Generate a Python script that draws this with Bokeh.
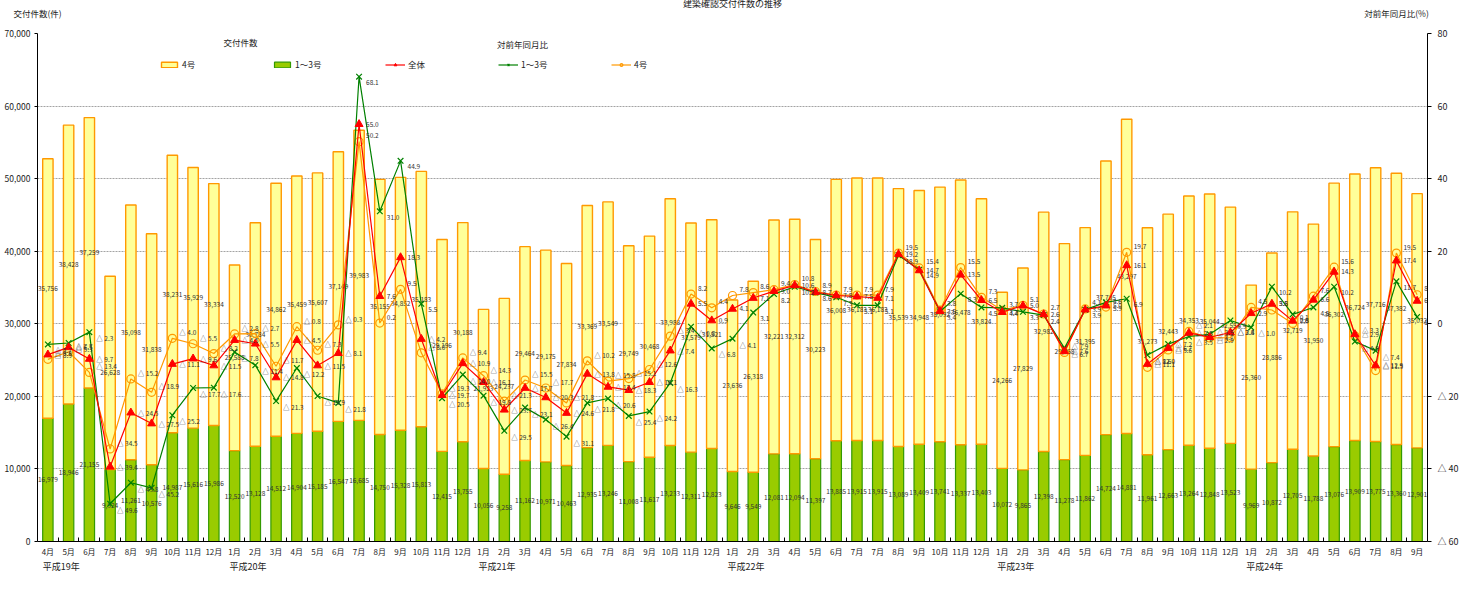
from bokeh.plotting import figure
from bokeh.models import (ColumnDataSource, Range1d, LinearAxis, FixedTicker, Legend,
                          LegendItem, Label, NumeralTickFormatter)
from bokeh.embed import file_html
from bokeh.resources import INLINE
from bokeh.core.properties import value

FONT = "Noto Sans CJK JP"

months = ["4月", "5月", "6月", "7月", "8月", "9月", "10月", "11月", "12月",
          "1月", "2月", "3月", "4月", "5月", "6月", "7月", "8月", "9月", "10月", "11月", "12月",
          "1月", "2月", "3月", "4月", "5月", "6月", "7月", "8月", "9月", "10月", "11月", "12月",
          "1月", "2月", "3月", "4月", "5月", "6月", "7月", "7月", "8月", "9月", "10月", "11月", "12月",
          "1月", "2月", "3月", "4月", "5月", "6月", "7月", "8月", "9月", "10月", "11月", "12月",
          "1月", "2月", "3月", "4月", "5月", "6月", "7月", "8月", "9月"]

year_labels = ["平成19年", "平成20年", "平成21年", "平成22年", "平成23年", "平成24年"]
year_start = [0, 9, 21, 33, 46, 58]

# 交付件数
cnt_13 = [16979, 18946, 21155, 9924, 11261, 10576, 14987, 15616, 15986,
          12520, 13128, 14512, 14904, 15185, 16547, 16685, 14750, 15328, 15813, 12415, 13755,
          10056, 9258, 11162, 10971, 10463, 12935, 13246, 11008, 11617, 13233, 12311, 12823,
          9646, 9549, 12081, 12094, 11397, 13885, 13915, 13915, 13089, 13409, 13741, 13337, 13403,
          10072, 9865, 12398, 11278, 11862, 14724, 14881, 11961, 12663, 13264, 12848, 13523,
          9969, 10872, 12705, 11788, 13076, 13909, 13775, 13360, 12901]
cnt_4 = [35756, 38428, 37259, 26628, 35098, 31838, 38231, 35929, 33334,
         25588, 30784, 34862, 35459, 35607, 37149, 39983, 35155, 34852, 35183, 29196, 30188,
         21923, 24237, 29464, 29175, 27834, 33369, 33549, 29749, 30468, 33988, 31579, 31521,
         23636, 26318, 32221, 32312, 30223, 36008, 36183, 36183, 35539, 34948, 35092, 36478, 33824,
         24266, 27829, 32982, 29768, 31395, 37705, 43297, 31273, 32443, 34353, 35044, 32554,
         25360, 28886, 32719, 31950, 36302, 36724, 37716, 37382, 35032]

# 対前年同月比 (%)
pct_all = [-8.5, -6.5, -9.7, -39.4, -24.5, -27.5, -11.1, -9.6, -11.5,
           -4.5, -5.5, -14.8, -4.5, -11.5, -8.1, 55.0, 7.6, 18.3, -4.2, -19.7, -10.9,
           -16.1, -23.7, -17.7, -20.3, -24.6, -13.8, -17.4, -18.3, -16.1, -7.4, 5.5, 0.9,
           4.1, 7.1, 9.0, 10.6, 8.7, 7.8, 7.5, 7.1, 19.2, 14.7, 3.5, 13.5, 6.5,
           3.2, 5.0, 2.6, -7.6, 3.9, 5.0, 16.1, -11.1, -6.7, -2.5, -3.7, -2.4,
           2.9, 5.5, 0.8, 6.6, 14.3, -2.9, -11.5, 17.4, 6.3]
pct_13 = [-5.7, -5.3, -2.3, -49.6, -43.8, -45.2, -25.2, -17.7, -17.6,
          -7.8, -11.4, -21.3, -12.2, -19.9, -21.8, 68.1, 31.0, 44.9, 5.5, -20.5, -14.0,
          -19.8, -29.5, -23.1, -26.4, -31.1, -21.8, -20.6, -25.4, -24.2, -16.3, -0.8, -6.8,
          -4.1, 3.1, 8.2, 10.2, 8.6, 7.3, 5.1, 5.1, 18.9, 14.9, 3.4, 8.3, 4.5,
          4.4, 3.3, 2.4, -6.7, 3.9, 5.9, 6.9, -8.6, -5.6, -3.5, -2.9, 0.9,
          -1.0, 10.2, 2.6, 4.5, 10.2, -4.9, -7.4, 11.7, 1.9]
pct_4 = [-9.8, -7.7, -13.4, -34.5, -15.2, -18.9, -4.0, -5.5, -8.2,
         -2.8, -2.7, -11.7, -0.8, -7.3, -0.3, 50.2, 0.2, 9.5, -8.0, -19.3, -9.4,
         -14.3, -21.3, -15.5, -17.7, -21.8, -10.2, -15.8, -15.1, -12.6, -3.4, 8.2, 4.4,
         7.8, 8.6, 9.4, 10.8, 8.9, 7.9, 7.9, 7.9, 19.5, 15.4, 3.8, 15.5, 7.3,
         3.7, 5.1, 2.7, -7.9, 4.1, 4.6, 19.7, -12.0, -7.2, -2.1, -3.9, -3.8,
         4.5, 3.8, 0.1, 7.6, 15.6, -3.3, -12.9, 19.5, 8.0]

left_ticks = [0, 10000, 20000, 30000, 40000, 50000, 60000, 70000]
right_ticks = [-60, -40, -20, 0, 20, 40, 60, 80]
captions = ["交付件数(件)", "対前年同月比(%)"]


def pfmt(v):
    return ("△ %.1f" % abs(v)) if v < 0 else ("%.1f" % v)


N = len(months)
xs = list(range(N))
top_all = [a + b for a, b in zip(cnt_13, cnt_4)]
src = ColumnDataSource(dict(
    x=xs, g=cnt_13, y4=cnt_4, top=top_all,
    g_mid=[v / 2 for v in cnt_13],
    y_mid=[a + b / 2 for a, b in zip(cnt_13, cnt_4)],
    g_lab=["{:,}".format(v) for v in cnt_13],
    y_lab=["{:,}".format(v) for v in cnt_4],
    pa=pct_all, p13=pct_13, p4=pct_4,
    pa_lab=[pfmt(v) for v in pct_all],
    p13_lab=[pfmt(v) for v in pct_13],
    p4_lab=[pfmt(v) for v in pct_4],
))

FW, FH = 1390, 508
p = figure(frame_width=FW, frame_height=FH,
           x_range=Range1d(-0.5, N - 0.5), y_range=Range1d(0, 70000),
           output_backend="svg", toolbar_location=None,
           title="建築確認交付件数の推移",
           min_border_left=37, min_border_right=10, min_border_top=32, min_border_bottom=30)
p.extra_y_ranges = {"pct": Range1d(-60, 80)}
p.extra_x_ranges = {"cap": Range1d(0, FW)}
p.outline_line_color = None
p.background_fill_color = "white"

xa = p.below[0]
ya = p.left[0]

# main title (outermost row)
p.title.align = "center"
p.title.standoff = -12
p.title.text_font = FONT
p.title.text_font_size = "9px"
p.title.text_font_style = "normal"
p.title.text_color = "#222222"

# captions row above the frame (axis with two labelled ticks, no line)
cap = LinearAxis(x_range_name="cap", ticker=FixedTicker(ticks=[0, FW - 31]),
                 major_label_overrides={0: captions[0], FW - 31: captions[1]})
cap.axis_line_color = None
cap.major_tick_line_color = None
cap.major_tick_in = 0
cap.major_tick_out = 0
cap.minor_tick_line_color = None
cap.major_label_standoff = 15
cap.major_label_text_font = FONT
cap.major_label_text_font_size = "8.5px"
cap.major_label_text_color = "#222222"
p.add_layout(cap, "above")

# grid
p.xgrid.grid_line_color = None
p.ygrid.ticker = FixedTicker(ticks=left_ticks)
p.ygrid.grid_line_color = "#8c8c8c"
p.ygrid.grid_line_dash = "2 1"
p.ygrid.grid_line_width = 0.8

# bars
bw = 0.5
r_g = p.vbar(x="x", bottom=0, top="g", width=bw, source=src,
             fill_color="#99CC00", line_color="#339900", line_width=1.2)
r_y = p.vbar(x="x", bottom="g", top="top", width=bw, source=src,
             fill_color="#FFFF99", line_color="#FF9900", line_width=1.4)

# count labels
p.text(x="x", y="y_mid", text="y_lab", source=src, text_align="center", text_baseline="middle",
       text_font=value(FONT), text_font_size="6.5px", text_color="#333333")
p.text(x="x", y="g_mid", text="g_lab", source=src, text_align="center", text_baseline="middle",
       text_font=value(FONT), text_font_size="6.5px", text_color="#333333")

# lines
l4 = p.line(x="x", y="p4", source=src, y_range_name="pct", line_color="#FF9900", line_width=1.2)
m4 = p.scatter(x="x", y="p4", source=src, y_range_name="pct", marker="circle", size=8,
               fill_color=None, line_color="#FF9900", line_width=1.2)
l13 = p.line(x="x", y="p13", source=src, y_range_name="pct", line_color="#008000", line_width=1.2)
m13 = p.scatter(x="x", y="p13", source=src, y_range_name="pct", marker="x", size=8,
                line_color="#008000", line_width=1.2)
la = p.line(x="x", y="pa", source=src, y_range_name="pct", line_color="#FF0000", line_width=1.2)
ma = p.scatter(x="x", y="pa", source=src, y_range_name="pct", marker="triangle", size=8,
               fill_color="#FF0000", line_color="#FF0000")

# pct labels
for col, yoff in (("p4", -6), ("pa", 0), ("p13", 6)):
    p.text(x="x", y=col, text=col + "_lab", source=src, y_range_name="pct",
           x_offset=7, y_offset=yoff, text_align="left", text_baseline="middle",
           text_font=value(FONT), text_font_size="6.5px", text_color="#333333")

# left axis
ya.ticker = FixedTicker(ticks=left_ticks)
ya.formatter = NumeralTickFormatter(format="0,0")
ya.axis_line_color = "black"
ya.major_tick_line_color = "black"
ya.major_tick_in = 0
ya.major_tick_out = 3
ya.minor_tick_line_color = None
ya.major_label_standoff = 4
ya.major_label_text_font = FONT
ya.major_label_text_font_size = "8.5px"
ya.major_label_text_color = "#222222"

# right axis
ra = LinearAxis(y_range_name="pct", ticker=FixedTicker(ticks=right_ticks),
                major_label_overrides={t: ("△ %d" % abs(t)) if t < 0 else str(t) for t in right_ticks})
ra.axis_line_color = "black"
ra.major_tick_line_color = "black"
ra.major_tick_in = 0
ra.major_tick_out = 4
ra.minor_tick_line_color = None
ra.major_label_standoff = 6
ra.major_label_text_font = FONT
ra.major_label_text_font_size = "9px"
ra.major_label_text_color = "#222222"
p.add_layout(ra, "right")

# x axis (months)
xa.ticker = FixedTicker(ticks=xs, minor_ticks=[i + 0.5 for i in range(N - 1)])
xa.major_label_overrides = {i: m for i, m in enumerate(months)}
xa.major_tick_line_color = None
xa.major_tick_in = 0
xa.major_tick_out = 0
xa.minor_tick_line_color = "black"
xa.minor_tick_in = 4
xa.minor_tick_out = 0
xa.axis_line_color = "black"
xa.axis_line_width = 1.2
xa.major_label_standoff = 4
xa.major_label_text_font = FONT
xa.major_label_text_font_size = "8px"
xa.major_label_text_color = "#222222"

# x axis (years)
yr = LinearAxis(ticker=FixedTicker(ticks=[s + 0.65 for s in year_start]),
                major_label_overrides={s + 0.65: t for s, t in zip(year_start, year_labels)})
yr.axis_line_color = None
yr.major_tick_line_color = None
yr.major_tick_in = 0
yr.major_tick_out = 0
yr.minor_tick_line_color = None
yr.major_label_standoff = 0
yr.major_label_text_font = FONT
yr.major_label_text_font_size = "9px"
yr.major_label_text_color = "#222222"
p.add_layout(yr, "below")

# legend
legend = Legend(items=[
    LegendItem(label="4号", renderers=[r_y]),
    LegendItem(label="1～3号", renderers=[r_g]),
    LegendItem(label="全体", renderers=[la, ma]),
    LegendItem(label="1～3号", renderers=[l13, m13]),
    LegendItem(label="4号", renderers=[l4, m4]),
], orientation="horizontal", location=(122, 471))
legend.border_line_color = None
legend.background_fill_alpha = 0
legend.padding = 0
legend.margin = 0
legend.spacing = 10
legend.glyph_width = 20
legend.glyph_height = 7
legend.label_width = 80
legend.label_height = 10
legend.label_standoff = 3
legend.label_text_font = FONT
legend.label_text_font_size = "8.5px"
legend.label_text_color = "#222222"
p.add_layout(legend, "center")

# legend headers
for text, x, y in (("交付件数", 203, 500), ("対前年同月比", 485, 498)):
    p.add_layout(Label(x=x, y=y, x_units="screen", y_units="screen", text=text,
                       text_align="center", text_baseline="middle", text_font=FONT,
                       text_font_size="8.5px", text_color="#222222"))

open("out.html", "w").write(file_html(p, INLINE))
